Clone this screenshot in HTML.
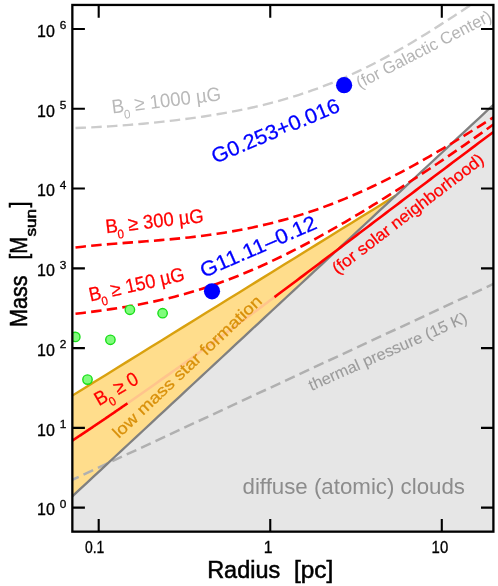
<!DOCTYPE html>
<html><head><meta charset="utf-8"><title>chart</title><style>html,body{margin:0;padding:0;background:#fff}body{width:498px;height:586px;overflow:hidden;font-family:"Liberation Sans",sans-serif}</style></head><body>
<svg width="498" height="586" viewBox="0 0 498 586" style="display:block;will-change:transform" font-family="Liberation Sans, sans-serif">
<rect width="498" height="586" fill="#fff"/>
<clipPath id="c"><rect x="72.35" y="4.95" width="421.04999999999995" height="526.6999999999999"/></clipPath>
<g clip-path="url(#c)">
<path d="M72.35,496.35 L79.49,489.71 L86.62,483.07 L93.76,476.44 L100.90,469.80 L108.03,463.16 L115.17,456.53 L122.31,449.89 L129.44,443.25 L136.58,436.61 L143.71,429.98 L150.85,423.34 L157.99,416.70 L165.12,410.07 L172.26,403.43 L179.40,396.79 L186.53,390.16 L193.67,383.52 L200.81,376.88 L207.94,370.25 L215.08,363.61 L222.22,356.97 L229.35,350.34 L236.49,343.70 L243.62,337.06 L250.76,330.42 L257.90,323.79 L265.03,317.15 L272.17,310.51 L279.31,303.88 L286.44,297.24 L293.58,290.60 L300.72,283.97 L307.85,277.33 L314.99,270.69 L322.13,264.06 L329.26,257.42 L336.40,250.78 L343.53,244.15 L350.67,237.51 L357.81,230.87 L364.94,224.23 L372.08,217.60 L379.22,210.96 L386.35,204.32 L393.49,197.69 L400.63,191.05 L407.76,184.41 L414.90,177.78 L422.04,171.14 L429.17,164.50 L436.31,157.87 L443.44,151.23 L450.58,144.59 L457.72,137.95 L464.85,131.32 L471.99,124.68 L479.13,118.04 L486.26,111.41 L493.40,104.77 L493.4,531.65 L72.35,531.65 Z" fill="#e6e6e6"/>
<path d="M72.35,395.60 L83.50,388.71 L94.65,381.81 L105.80,374.91 L116.95,368.02 L128.10,361.12 L139.25,354.22 L150.40,347.33 L161.55,340.43 L172.70,333.54 L183.85,326.64 L195.00,319.74 L206.15,312.85 L217.30,305.95 L228.45,299.06 L239.60,292.16 L250.75,285.26 L261.90,278.37 L273.05,271.47 L284.19,264.58 L295.34,257.68 L306.49,250.78 L317.64,243.89 L328.79,236.99 L339.94,230.09 L351.09,223.20 L362.24,216.30 L373.39,209.41 L384.54,202.51 L395.69,195.61 L395.69,195.64 L384.54,206.01 L373.39,216.38 L362.24,226.75 L351.09,237.12 L339.94,247.49 L328.79,257.85 L317.64,268.22 L306.49,278.59 L295.34,288.96 L284.19,299.33 L273.05,309.70 L261.90,320.07 L250.75,330.44 L239.60,340.81 L228.45,351.18 L217.30,361.55 L206.15,371.92 L195.00,382.29 L183.85,392.65 L172.70,403.02 L161.55,413.39 L150.40,423.76 L139.25,434.13 L128.10,444.50 L116.95,454.87 L105.80,465.24 L94.65,475.61 L83.50,485.98 L72.35,496.35 Z" fill="#ffdd8c"/>
<path d="M72.35,479.76 L493.40,283.97" fill="none" stroke="#b0b0b0" stroke-width="2.5" stroke-dasharray="10.6 5.28" stroke-dashoffset="3.58"/>
<path d="M72.35,395.60 L83.50,388.71 L94.65,381.81 L105.80,374.91 L116.95,368.02 L128.10,361.12 L139.25,354.22 L150.40,347.33 L161.55,340.43 L172.70,333.54 L183.85,326.64 L195.00,319.74 L206.15,312.85 L217.30,305.95 L228.45,299.06 L239.60,292.16 L250.75,285.26 L261.90,278.37 L273.05,271.47 L284.19,264.58 L295.34,257.68 L306.49,250.78 L317.64,243.89 L328.79,236.99 L339.94,230.09 L351.09,223.20 L362.24,216.30 L373.39,209.41 L384.54,202.51 L395.69,195.61" fill="none" stroke="#d9a10f" stroke-width="2.4"/>
<path d="M72.35,496.35 L79.49,489.71 L86.62,483.07 L93.76,476.44 L100.90,469.80 L108.03,463.16 L115.17,456.53 L122.31,449.89 L129.44,443.25 L136.58,436.61 L143.71,429.98 L150.85,423.34 L157.99,416.70 L165.12,410.07 L172.26,403.43 L179.40,396.79 L186.53,390.16 L193.67,383.52 L200.81,376.88 L207.94,370.25 L215.08,363.61 L222.22,356.97 L229.35,350.34 L236.49,343.70 L243.62,337.06 L250.76,330.42 L257.90,323.79 L265.03,317.15 L272.17,310.51 L279.31,303.88 L286.44,297.24 L293.58,290.60 L300.72,283.97 L307.85,277.33 L314.99,270.69 L322.13,264.06 L329.26,257.42 L336.40,250.78 L343.53,244.15 L350.67,237.51 L357.81,230.87 L364.94,224.23 L372.08,217.60 L379.22,210.96 L386.35,204.32 L393.49,197.69 L400.63,191.05 L407.76,184.41 L414.90,177.78 L422.04,171.14 L429.17,164.50 L436.31,157.87 L443.44,151.23 L450.58,144.59 L457.72,137.95 L464.85,131.32 L471.99,124.68 L479.13,118.04 L486.26,111.41 L493.40,104.77" fill="none" stroke="#808080" stroke-width="2.3"/>
<path d="M127.00,403.67 L129.50,401.94 L132.00,400.21 L134.50,398.47 L137.00,396.73 L139.50,394.99 L142.00,393.24 L144.50,391.49 L147.00,389.74 L149.50,387.98 L152.00,386.23 L154.50,384.47 L157.00,382.70 L159.50,380.93 L162.00,379.17 L164.50,377.39 L167.00,375.62 L169.50,373.84 L172.00,372.06 L174.50,370.28 L177.00,368.49 L179.50,366.70 L182.00,364.91 L184.50,363.12 L187.00,361.32 L189.50,359.52 L192.00,357.72 L194.50,355.91 L197.00,354.11 L199.50,352.30 L202.00,350.49 L204.50,348.68 L207.00,346.86 L209.50,345.04 L212.00,343.22 L214.50,341.40 L217.00,339.58 L219.50,337.75 L222.00,335.92 L224.50,334.09 L227.00,332.26 L229.50,330.42 L232.00,328.59 L234.50,326.75 L237.00,324.91 L239.50,323.07 L242.00,321.22 L244.50,319.38 L247.00,317.53 L249.50,315.68 L252.00,313.83 L254.50,311.97 L257.00,310.12 L259.50,308.26 L262.00,306.41 L264.50,304.55 L267.00,302.69 L269.50,300.82 L272.00,298.96 L274.50,297.10" fill="none" stroke="#ffc48c" stroke-width="2.6"/>
<path d="M72.35,440.62 L73.28,440.00 L74.22,439.39 L75.15,438.77 L76.09,438.15 L77.02,437.53 L77.96,436.91 L78.89,436.29 L79.83,435.67 L80.76,435.05 L81.70,434.43 L82.63,433.80 L83.57,433.18 L84.50,432.56 L85.44,431.93 L86.37,431.31 L87.31,430.68 L88.24,430.06 L89.18,429.43 L90.11,428.80 L91.04,428.18 L91.98,427.55 L92.91,426.92 L93.85,426.29 L94.78,425.66 L95.72,425.03 L96.65,424.40 L97.59,423.77 L98.52,423.14 L99.46,422.51 L100.39,421.88 L101.33,421.24 L102.26,420.61 L103.20,419.98 L104.13,419.34 L105.07,418.71 L106.00,418.07 L106.94,417.43 L107.87,416.80 L108.81,416.16 L109.74,415.52 L110.67,414.89 L111.61,414.25 L112.54,413.61 L113.48,412.97 L114.41,412.33 L115.35,411.69 L116.28,411.05 L117.22,410.41 L118.15,409.77 L119.09,409.12 L120.02,408.48 L120.96,407.84 L121.89,407.19 L122.83,406.55 L123.76,405.91 L124.70,405.26 L125.63,404.62 L126.57,403.97 L127.50,403.32" fill="none" stroke="#ff0000" stroke-width="2.6"/>
<path d="M274.50,297.10 L278.21,294.33 L281.92,291.55 L285.63,288.78 L289.34,286.00 L293.05,283.22 L296.76,280.43 L300.47,277.64 L304.18,274.86 L307.89,272.07 L311.60,269.27 L315.31,266.48 L319.02,263.68 L322.73,260.88 L326.44,258.08 L330.15,255.28 L333.86,252.47 L337.57,249.67 L341.28,246.86 L344.99,244.05 L348.70,241.25 L352.41,238.44 L356.12,235.63 L359.83,232.81 L363.54,230.00 L367.25,227.19 L370.96,224.38 L374.67,221.56 L378.38,218.75 L382.09,215.94 L385.81,213.12 L389.52,210.31 L393.23,207.49 L396.94,204.68 L400.65,201.87 L404.36,199.06 L408.07,196.24 L411.78,193.43 L415.49,190.62 L419.20,187.81 L422.91,185.00 L426.62,182.20 L430.33,179.39 L434.04,176.58 L437.75,173.78 L441.46,170.98 L445.17,168.18 L448.88,165.38 L452.59,162.58 L456.30,159.79 L460.01,156.99 L463.72,154.20 L467.43,151.42 L471.14,148.63 L474.85,145.84 L478.56,143.06 L482.27,140.29 L485.98,137.51 L489.69,134.74 L493.40,131.97" fill="none" stroke="#ff0000" stroke-width="2.6"/>
<path d="M75.50,247.50 L82.58,246.68 L89.67,245.94 L96.75,245.25 L103.83,244.62 L110.92,244.02 L118.00,243.45 L125.08,242.90 L132.16,242.36 L139.25,241.83 L146.33,241.28 L153.41,240.72 L160.50,240.14 L167.58,239.52 L174.66,238.87 L181.75,238.17 L188.83,237.43 L195.91,236.62 L202.99,235.75 L210.08,234.81 L217.16,233.80 L224.24,232.70 L231.33,231.53 L238.41,230.26 L245.49,228.91 L252.58,227.45 L259.66,225.90 L266.74,224.25 L273.83,222.49 L280.91,220.63 L287.99,218.66 L295.07,216.57 L302.16,214.38 L309.24,212.07 L316.32,209.65 L323.41,207.12 L330.49,204.47 L337.57,201.72 L344.66,198.84 L351.74,195.86 L358.82,192.77 L365.91,189.57 L372.99,186.26 L380.07,182.85 L387.15,179.34 L394.24,175.73 L401.32,172.03 L408.40,168.23 L415.49,164.35 L422.57,160.38 L429.65,156.34 L436.74,152.22 L443.82,148.04 L450.90,143.79 L457.98,139.49 L465.07,135.14 L472.15,130.74 L479.23,126.31 L486.32,121.85 L493.40,117.37" fill="none" stroke="#ff0000" stroke-width="2.6" stroke-dasharray="10.5 5.25"/>
<path d="M75.50,313.83 L82.58,312.94 L89.67,312.03 L96.75,311.10 L103.83,310.14 L110.92,309.13 L118.00,308.07 L125.08,306.94 L132.16,305.74 L139.25,304.45 L146.33,303.09 L153.41,301.63 L160.50,300.07 L167.58,298.40 L174.66,296.64 L181.75,294.76 L188.83,292.78 L195.91,290.68 L202.99,288.46 L210.08,286.14 L217.16,283.70 L224.24,281.14 L231.33,278.47 L238.41,275.69 L245.49,272.80 L252.58,269.80 L259.66,266.69 L266.74,263.49 L273.83,260.18 L280.91,256.77 L287.99,253.27 L295.07,249.68 L302.16,246.00 L309.24,242.23 L316.32,238.39 L323.41,234.47 L330.49,230.48 L337.57,226.42 L344.66,222.29 L351.74,218.10 L358.82,213.85 L365.91,209.55 L372.99,205.19 L380.07,200.79 L387.15,196.33 L394.24,191.84 L401.32,187.29 L408.40,182.71 L415.49,178.09 L422.57,173.43 L429.65,168.73 L436.74,163.99 L443.82,159.21 L450.90,154.38 L457.98,149.52 L465.07,144.61 L472.15,139.65 L479.23,134.63 L486.32,129.56 L493.40,124.43" fill="none" stroke="#ff0000" stroke-width="2.6" stroke-dasharray="10.5 5.25"/>
<path d="M75.50,127.94 L82.25,127.73 L89.01,127.46 L95.76,127.13 L102.52,126.76 L109.27,126.34 L116.03,125.89 L122.78,125.39 L129.53,124.85 L136.29,124.28 L143.04,123.68 L149.80,123.04 L156.55,122.36 L163.31,121.64 L170.06,120.89 L176.81,120.09 L183.57,119.25 L190.32,118.37 L197.08,117.43 L203.83,116.44 L210.58,115.40 L217.34,114.30 L224.09,113.14 L230.85,111.91 L237.60,110.60 L244.36,109.23 L251.11,107.77 L257.86,106.23 L264.62,104.61 L271.37,102.89 L278.13,101.08 L284.88,99.17 L291.64,97.16 L298.39,95.04 L305.14,92.81 L311.90,90.48 L318.65,88.03 L325.41,85.46 L332.16,82.78 L338.92,79.99 L345.67,77.07 L352.42,74.03 L359.18,70.88 L365.93,67.61 L372.69,64.22 L379.44,60.72 L386.19,57.11 L392.95,53.40 L399.70,49.58 L406.46,45.66 L413.21,41.66 L419.97,37.57 L426.72,33.40 L433.47,29.17 L440.23,24.88 L446.98,20.54 L453.74,16.16 L460.49,11.77 L467.25,7.36 L474.00,2.96" fill="none" stroke="#cccccc" stroke-width="2.4" stroke-dasharray="10.5 5.25"/>
<circle cx="75.3" cy="336.9" r="4.7" fill="#80fc7c" stroke="#19de19" stroke-width="1.4"/>
<circle cx="110.4" cy="339.8" r="4.7" fill="#80fc7c" stroke="#19de19" stroke-width="1.4"/>
<circle cx="87.5" cy="379.6" r="4.7" fill="#80fc7c" stroke="#19de19" stroke-width="1.4"/>
<circle cx="129.9" cy="309.8" r="4.7" fill="#80fc7c" stroke="#19de19" stroke-width="1.4"/>
<circle cx="162.6" cy="313.2" r="4.7" fill="#80fc7c" stroke="#19de19" stroke-width="1.4"/>
<circle cx="344.1" cy="85.2" r="8.1" fill="#0000ff"/>
<circle cx="212.0" cy="291.3" r="8.1" fill="#0000ff"/>
</g>
<rect x="72.35" y="4.95" width="421.04999999999995" height="526.6999999999999" fill="none" stroke="#000" stroke-width="2.3"/>
<path d="M72.35,507.65 H84.9 M493.4,507.65 H481" stroke="#000" stroke-width="2.1"/>
<path d="M72.35,427.88 H84.9 M493.4,427.88 H481" stroke="#000" stroke-width="2.1"/>
<path d="M72.35,348.11 H84.9 M493.4,348.11 H481" stroke="#000" stroke-width="2.1"/>
<path d="M72.35,268.34 H84.9 M493.4,268.34 H481" stroke="#000" stroke-width="2.1"/>
<path d="M72.35,188.57 H84.9 M493.4,188.57 H481" stroke="#000" stroke-width="2.1"/>
<path d="M72.35,108.80 H84.9 M493.4,108.80 H481" stroke="#000" stroke-width="2.1"/>
<path d="M72.35,29.03 H84.9 M493.4,29.03 H481" stroke="#000" stroke-width="2.1"/>
<path d="M98.70,531.65 V518.9 M98.70,4.95 V17.7" stroke="#000" stroke-width="2.1"/>
<path d="M270.25,531.65 V518.9 M270.25,4.95 V17.7" stroke="#000" stroke-width="2.1"/>
<path d="M441.80,531.65 V518.9 M441.80,4.95 V17.7" stroke="#000" stroke-width="2.1"/>
<g fill="#000" stroke="#000" stroke-width="0.3">
<text x="37.0" y="515.35" font-size="15.8" textLength="17.8" lengthAdjust="spacingAndGlyphs">10</text>
<text x="59.7" y="507.85" font-size="11.3" textLength="6.6" lengthAdjust="spacingAndGlyphs">0</text>
<text x="37.0" y="435.58" font-size="15.8" textLength="17.8" lengthAdjust="spacingAndGlyphs">10</text>
<text x="59.7" y="428.08" font-size="11.3" textLength="6.6" lengthAdjust="spacingAndGlyphs">1</text>
<text x="37.0" y="355.81" font-size="15.8" textLength="17.8" lengthAdjust="spacingAndGlyphs">10</text>
<text x="59.7" y="348.31" font-size="11.3" textLength="6.6" lengthAdjust="spacingAndGlyphs">2</text>
<text x="37.0" y="276.04" font-size="15.8" textLength="17.8" lengthAdjust="spacingAndGlyphs">10</text>
<text x="59.7" y="268.54" font-size="11.3" textLength="6.6" lengthAdjust="spacingAndGlyphs">3</text>
<text x="37.0" y="196.27" font-size="15.8" textLength="17.8" lengthAdjust="spacingAndGlyphs">10</text>
<text x="59.7" y="188.77" font-size="11.3" textLength="6.6" lengthAdjust="spacingAndGlyphs">4</text>
<text x="37.0" y="116.50" font-size="15.8" textLength="17.8" lengthAdjust="spacingAndGlyphs">10</text>
<text x="59.7" y="109.00" font-size="11.3" textLength="6.6" lengthAdjust="spacingAndGlyphs">5</text>
<text x="37.0" y="36.73" font-size="15.8" textLength="17.8" lengthAdjust="spacingAndGlyphs">10</text>
<text x="59.7" y="29.23" font-size="11.3" textLength="6.6" lengthAdjust="spacingAndGlyphs">6</text>
<text x="84.9" y="553" font-size="15.8" textLength="19.4" lengthAdjust="spacingAndGlyphs">0.1</text>
<text x="268.2" y="552.8" font-size="15.8" text-anchor="middle">1</text>
<text x="431.6" y="552.8" font-size="15.8" textLength="16.6" lengthAdjust="spacingAndGlyphs">10</text>
<g stroke-width="0.55">
<text x="207.2" y="577.7" font-size="24.6" textLength="73" lengthAdjust="spacingAndGlyphs">Radius</text>
<text x="294" y="577.7" font-size="24.6" textLength="39.3" lengthAdjust="spacingAndGlyphs">[pc]</text>
<g transform="translate(27.3,327) rotate(-90)">
<text x="0" y="0" font-size="24.6" textLength="51.5" lengthAdjust="spacingAndGlyphs">Mass</text>
<text x="67.5" y="0" font-size="24.6" textLength="22.5" lengthAdjust="spacingAndGlyphs">[M</text>
<text x="90.5" y="8.5" font-size="14" textLength="27.5" lengthAdjust="spacingAndGlyphs">sun</text>
<text x="119.5" y="0" font-size="24.6" textLength="6" lengthAdjust="spacingAndGlyphs">]</text>
</g>
</g>
</g>
<text transform="translate(215.0,163.7) rotate(-22.7)" font-size="20.8" textLength="137" lengthAdjust="spacingAndGlyphs" fill="#0000ff" stroke="#0000ff" stroke-width="0.25">G0.253+0.016</text>
<text transform="translate(203.8,278.0) rotate(-23.6)" font-size="20.8" textLength="125" lengthAdjust="spacingAndGlyphs" fill="#0000ff" stroke="#0000ff" stroke-width="0.25">G11.11–0.12</text>
<text transform="translate(337.4,274.7) rotate(-37.4)" font-size="16.8" textLength="186" lengthAdjust="spacingAndGlyphs" fill="#ff0000" stroke="#ff0000" stroke-width="0.25">(for solar neighborhood)</text>
<text transform="translate(311.6,390.9) rotate(-23.8)" font-size="16" textLength="171.5" lengthAdjust="spacingAndGlyphs" fill="#9b9b9b" stroke="#9b9b9b" stroke-width="0.1">thermal pressure (15 K)</text>
<text transform="translate(242.5,494) rotate(0)" font-size="21.8" textLength="222.5" lengthAdjust="spacingAndGlyphs" fill="#8c8c8c" stroke="#8c8c8c" stroke-width="0">diffuse (atomic) clouds</text>
<text transform="translate(112.5,113.6) rotate(-7.0)" fill="#b9b9b9" stroke="#b9b9b9" stroke-width="0" font-size="19.5" textLength="110" lengthAdjust="spacingAndGlyphs">B<tspan dx="-1.3" dy="6.6" font-size="12.3">0</tspan><tspan dy="-6.6"> ≥ 1000 µG</tspan></text>
<text transform="translate(106.3,233.2) rotate(-6.5)" fill="#ff0000" stroke="#ff0000" stroke-width="0.25" font-size="19.5" textLength="98.5" lengthAdjust="spacingAndGlyphs">B<tspan dx="-1.3" dy="6.6" font-size="12.3">0</tspan><tspan dy="-6.6"> ≥ 300 µG</tspan></text>
<text transform="translate(90.5,301.6) rotate(-12.7)" fill="#ff0000" stroke="#ff0000" stroke-width="0.25" font-size="19.5" textLength="97.5" lengthAdjust="spacingAndGlyphs">B<tspan dx="-1.3" dy="6.6" font-size="12.3">0</tspan><tspan dy="-6.6"> ≥ 150 µG</tspan></text>
<text transform="translate(99.1,406.2) rotate(-30)" fill="#ff0000" stroke="#ff0000" stroke-width="0.25" font-size="19.5" textLength="47.1" lengthAdjust="spacingAndGlyphs">B<tspan dx="-1.3" dy="6.6" font-size="12.3">0</tspan><tspan dy="-6.6"> ≥ 0</tspan></text>
<text transform="translate(118.8,439.1) rotate(-43.5)" font-size="16.2" textLength="198.8" lengthAdjust="spacingAndGlyphs" fill="#d9900a" stroke="#d9900a" stroke-width="0.25">low mass star formation</text>
<text transform="translate(359.7,88.8) rotate(-27.3)" font-size="16.8" textLength="150" lengthAdjust="spacingAndGlyphs" fill="#b4b4b4" stroke="#b4b4b4" stroke-width="0">(for Galactic Center)</text>
</svg>
</body></html>
